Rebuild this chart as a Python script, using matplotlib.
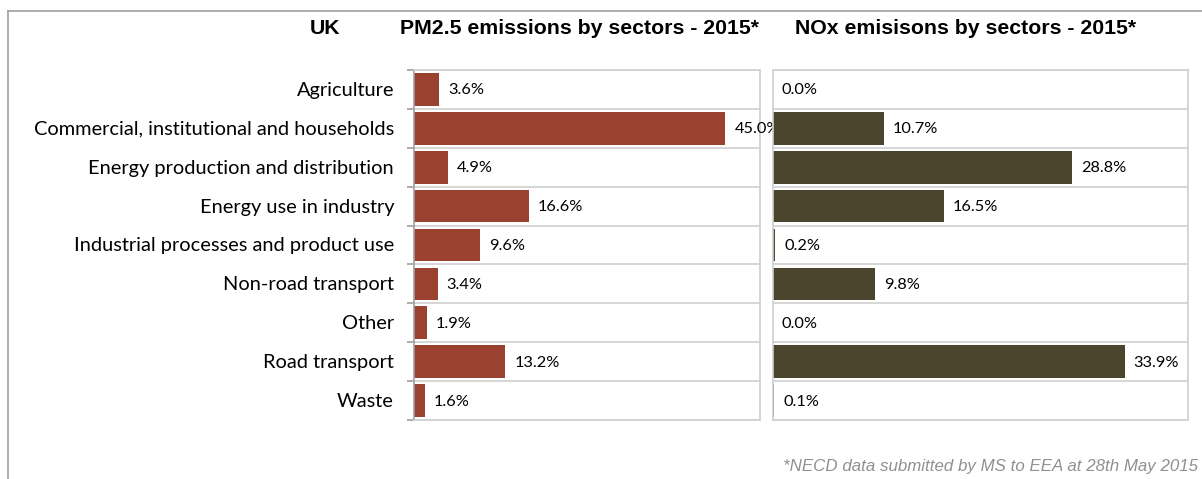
import matplotlib.pyplot as plt
from matplotlib.lines import Line2D

sectors = [
    "Agriculture",
    "Commercial, institutional and households",
    "Energy production and distribution",
    "Energy use in industry",
    "Industrial processes and product use",
    "Non-road transport",
    "Other",
    "Road transport",
    "Waste",
]
pm25 = [3.6, 45.0, 4.9, 16.6, 9.6, 3.4, 1.9, 13.2, 1.6]
nox = [0.0, 10.7, 28.8, 16.5, 0.2, 9.8, 0.0, 33.9, 0.1]

pm_color = '#9b4130'
nox_color = '#4b452d'
grid_color = '#d0d0d0'

W, H = 1202, 479
fig = plt.figure(figsize=(W / 100, H / 100), dpi=100)

def px_axes(x0, y0, x1, y1):
    return fig.add_axes([x0 / W, 1 - y1 / H, (x1 - x0) / W, (y1 - y0) / H])

def draw_panel(ax, values, color, xmax, show_labels):
    n = len(values)
    ypos = list(range(n))
    ax.barh(ypos, values, height=0.84, color=color, edgecolor='none')
    ax.set_xlim(0, xmax)
    ax.set_ylim(n - 0.5, -0.5)
    ax.set_xticks([])
    for b in range(n + 1):
        ax.axhline(b - 0.5, color=grid_color, lw=1.2, zorder=0)
    for side in ['top', 'right', 'bottom']:
        ax.spines[side].set_color(grid_color)
        ax.spines[side].set_linewidth(1.2)
    ax.spines['left'].set_color('#a0a0a0' if show_labels else grid_color)
    ax.spines['left'].set_linewidth(1.2)
    if show_labels:
        ax.set_yticks([b - 0.5 for b in range(n + 1)])
        ax.set_yticklabels([])
        ax.tick_params(axis='y', length=5, color='#a0a0a0', width=1.2)
        for i, s in enumerate(sectors):
            ax.annotate(s, xy=(0, i), xycoords=('axes fraction', 'data'),
                        xytext=(-20, -1), textcoords='offset pixels',
                        ha='right', va='center', fontsize=14.4,
                        family='Lato', color='black')
    else:
        ax.set_yticks([])
    for i, v in enumerate(values):
        ax.annotate(f"{v:.1f}%", xy=(v, i), xytext=(9, -1),
                    textcoords='offset pixels', ha='left', va='center',
                    fontsize=11.8, family='Lato', color='black',
                    annotation_clip=False)

ax1 = px_axes(414, 70, 760, 420)
draw_panel(ax1, pm25, pm_color, 50, True)
ax2 = px_axes(773, 70, 1188, 420)
draw_panel(ax2, nox, nox_color, 40, False)

# outer frame (top and left)
fig.add_artist(Line2D([8 / W, 8 / W], [0, 1 - 11 / H], transform=fig.transFigure,
                      color='#a0a0a0', lw=1.2))
fig.add_artist(Line2D([8 / W, 1], [1 - 11 / H, 1 - 11 / H], transform=fig.transFigure,
                      color='#a0a0a0', lw=1.2))

title_kw = dict(fontsize=15.3, fontweight='bold', family='Liberation Sans',
                va='center', color='black')
fig.text(310 / W, 1 - 29 / H, "UK", ha='left', **title_kw)
fig.text(400 / W, 1 - 29 / H, "PM2.5 emissions by sectors - 2015*", ha='left', **title_kw)
fig.text(795 / W, 1 - 29 / H, "NOx emisisons by sectors - 2015*", ha='left', **title_kw)
fig.text(1198 / W, 1 - 467 / H, "*NECD data submitted by MS to EEA at 28th May 2015",
         ha='right', va='center', fontsize=12.2, style='italic',
         family='Liberation Sans', color='#909090')

fig.savefig('out.png', dpi=100)
